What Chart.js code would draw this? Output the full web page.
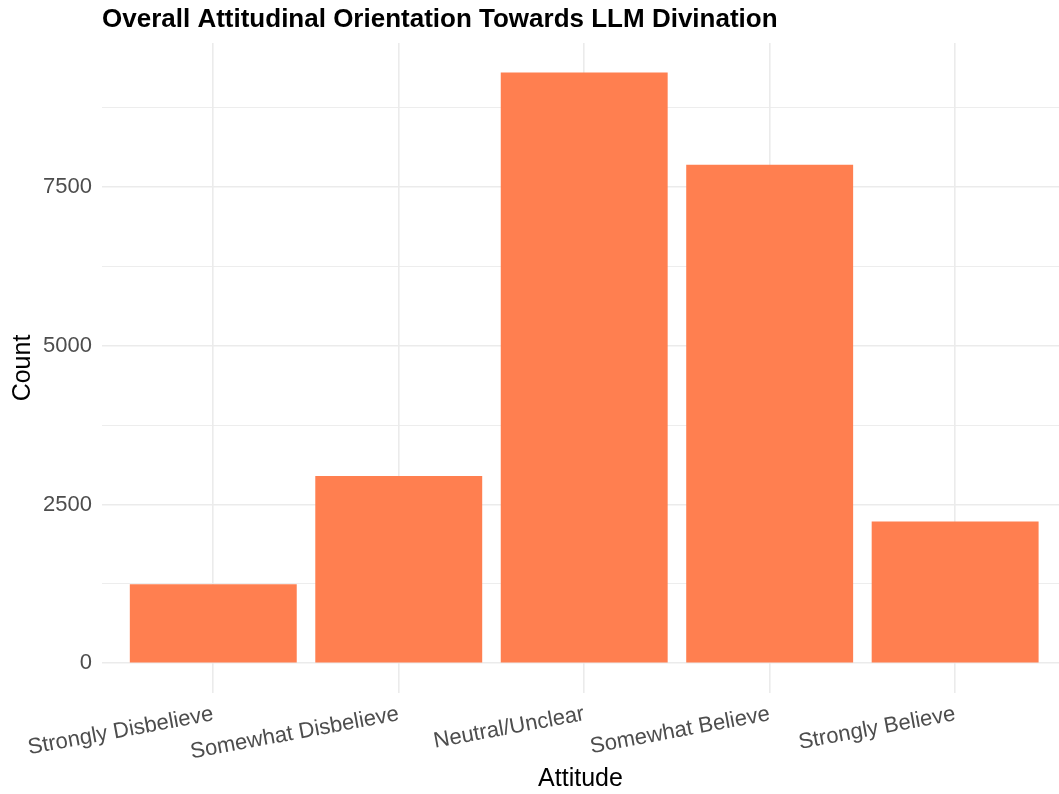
<!DOCTYPE html>
<html>
<head>
<meta charset="utf-8">
<title>Overall Attitudinal Orientation Towards LLM Divination</title>
<script src="https://cdn.jsdelivr.net/npm/chart.js@4.4.1/dist/chart.umd.min.js"></script>
<style>
  html, body { margin: 0; padding: 0; background: #ffffff; }
  #wrap { width: 1059px; height: 794px; }
</style>
</head>
<body>
<div id="wrap"><canvas id="mycanvas" width="1059" height="794"></canvas></div>
<script>
//-------------------------
// Data
//-------------------------
var categories = ['Strongly Disbelieve', 'Somewhat Disbelieve', 'Neutral/Unclear', 'Somewhat Believe', 'Strongly Believe'];
var counts = [1245, 2950, 9300, 7850, 2230];
var yTicks = [0, 1250, 2500, 3750, 5000, 6250, 7500, 8750]; // every other one is a minor line
var yLabelStep = 2500;

var titleText = 'Overall Attitudinal Orientation Towards LLM Divination';
var fontName = '"Liberation Sans", Arial, sans-serif';

// left-aligned bold title over the panel, like ggplot
var titlePlugin = {
  id: 'plotTitle',
  afterDraw: function(chart) {
    var ctx = chart.ctx;
    ctx.save();
    ctx.font = 'bold 26px ' + fontName;
    ctx.fillStyle = '#000000';
    ctx.textBaseline = 'middle';
    ctx.textAlign = 'left';
    ctx.fillText(titleText, chart.chartArea.left, 20);
    ctx.restore();
  }
};

var chartdata = {
  datasets: [{
    label: 'Count',
    data: counts.map(function(v, i) { return { x: i, y: v }; }),
    backgroundColor: '#FF7F50',
    borderWidth: 0,
    barPercentage: 0.9,
    categoryPercentage: 1.0
  }]
};

var ctx = document.getElementById('mycanvas');

var barGraph = new Chart(ctx, {
  type: 'bar',
  data: chartdata,
  plugins: [titlePlugin],
  options: {
    responsive: false,
    devicePixelRatio: 1,
    animation: false,
    layout: { padding: { top: 43, left: 0, right: 0, bottom: 0 } },
    plugins: {
      legend: { display: false },
      tooltip: { enabled: false }
    },
    scales: {
      x: {
        type: 'linear',
        offset: false,
        min: -0.6,
        max: categories.length - 1 + 0.56, // panel is cut off a little at the right edge
        afterBuildTicks: function(scale) {
          scale.ticks = categories.map(function(c, i) { return { value: i }; });
        },
        afterFit: function(scale) { scale.height = 101; },
        ticks: {
          autoSkip: false,
          maxRotation: 10.5,
          minRotation: 10.5,
          padding: 8,
          color: '#4d4d4d',
          font: { family: fontName, size: 22 },
          callback: function(v) { return categories[v]; }
        },
        grid: { offset: false, color: '#ebebeb', lineWidth: 1.6, drawTicks: false },
        border: { display: false },
        title: {
          display: true,
          text: 'Attitude',
          color: '#000000',
          font: { family: fontName, size: 25 },
          padding: { top: 0, bottom: 0 }
        }
      },
      y: {
        min: -468,
        max: 9765,
        afterBuildTicks: function(scale) {
          scale.ticks = yTicks.map(function(v) { return { value: v }; });
        },
        afterFit: function(scale) { scale.width = 102; },
        ticks: {
          autoSkip: false,
          padding: 10,
          color: '#4d4d4d',
          font: { family: fontName, size: 22 },
          callback: function(v) { return v % yLabelStep === 0 ? String(v) : ''; }
        },
        grid: {
          color: '#ebebeb',
          drawTicks: false,
          lineWidth: function(c) { return (c.tick && c.tick.value % yLabelStep === 0) ? 1.6 : 0.9; }
        },
        border: { display: false },
        title: {
          display: true,
          text: 'Count',
          color: '#000000',
          font: { family: fontName, size: 25 },
          padding: { top: 8, bottom: 0 }
        }
      }
    }
  }
});
</script>
</body>
</html>
